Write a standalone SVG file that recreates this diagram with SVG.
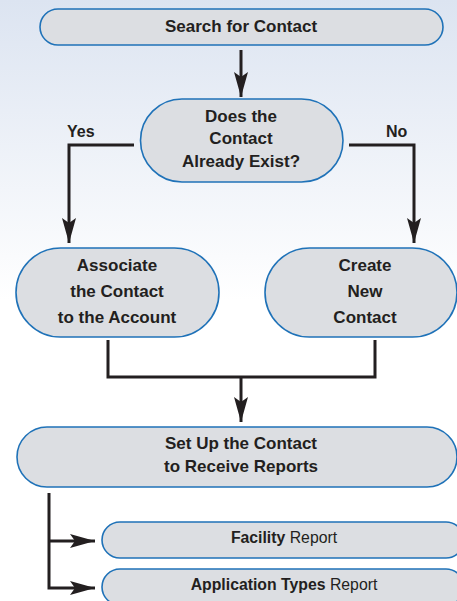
<svg xmlns="http://www.w3.org/2000/svg" width="457" height="601" viewBox="0 0 457 601">
<defs>
<linearGradient id="bg" x1="0" y1="0" x2="0" y2="601" gradientUnits="userSpaceOnUse">
<stop offset="0" stop-color="#dce4f1"/>
<stop offset="0.5" stop-color="#ffffff"/>
<stop offset="1" stop-color="#ffffff"/>
</linearGradient>
<marker id="ah" viewBox="0 0 25 14" refX="25" refY="7" markerWidth="25" markerHeight="14" markerUnits="userSpaceOnUse" orient="auto">
<path d="M0,0 L25,7 L0,14 L5,7 Z" fill="#231f20"/>
</marker>
</defs>
<style>
.node{fill:#dcdee2;stroke:#1f72b8;stroke-width:1.6}
.t{font-family:"Liberation Sans",Arial,sans-serif;font-weight:bold;fill:#231f20;text-anchor:middle;font-size:17px}
.s{font-size:15.8px}
.r{font-weight:normal}
.lbl{font-family:"Liberation Sans",Arial,sans-serif;font-weight:bold;fill:#231f20;font-size:16px}
.c{fill:none;stroke:#231f20;stroke-width:3}
</style>
<rect x="0" y="0" width="457" height="601" fill="url(#bg)"/>
<g id="connectors">
<path class="c" d="M241,50 V97" marker-end="url(#ah)"/>
<path class="c" d="M134,145 H69 V243" marker-end="url(#ah)"/>
<path class="c" d="M349,145 H414 V243" marker-end="url(#ah)"/>
<path class="c" d="M108,340 V377 H375 V340"/>
<path class="c" d="M241,377 V422" marker-end="url(#ah)"/>
<path class="c" d="M49,493 V588 H95" marker-end="url(#ah)"/>
<path class="c" d="M49,541 H95" marker-end="url(#ah)"/>
<text class="lbl" x="67" y="137">Yes</text>
<text class="lbl" x="386" y="137">No</text>
</g>
<g id="search">
<rect class="node" x="40" y="9" width="403" height="36" rx="18"/>
<text class="t" x="241" y="32">Search for Contact</text>
</g>
<g id="decision">
<rect class="node" x="140.5" y="99" width="202.5" height="83" rx="41.5"/>
<text class="t" x="241" y="122">Does the</text>
<text class="t" x="241" y="144">Contact</text>
<text class="t" x="241" y="167">Already Exist?</text>
</g>
<g id="associate">
<rect class="node" x="16" y="248" width="203" height="89" rx="44.5"/>
<text class="t" x="117" y="271">Associate</text>
<text class="t" x="117" y="297">the Contact</text>
<text class="t" x="117" y="323">to the Account</text>
</g>
<g id="create">
<rect class="node" x="265" y="248" width="192" height="89" rx="44.5"/>
<text class="t" x="365" y="271">Create</text>
<text class="t" x="365" y="297">New</text>
<text class="t" x="365" y="323">Contact</text>
</g>
<g id="setup">
<rect class="node" x="17" y="427" width="440" height="60" rx="30"/>
<text class="t" x="241" y="449">Set Up the Contact</text>
<text class="t" x="241" y="472">to Receive Reports</text>
</g>
<g id="facility">
<rect class="node" x="102" y="522" width="362" height="36" rx="18"/>
<text class="t s" x="284" y="543">Facility <tspan class="r">Report</tspan></text>
</g>
<g id="application">
<rect class="node" x="102" y="569" width="362" height="36" rx="18"/>
<text class="t s" x="284" y="590">Application Types <tspan class="r">Report</tspan></text>
</g>
</svg>
